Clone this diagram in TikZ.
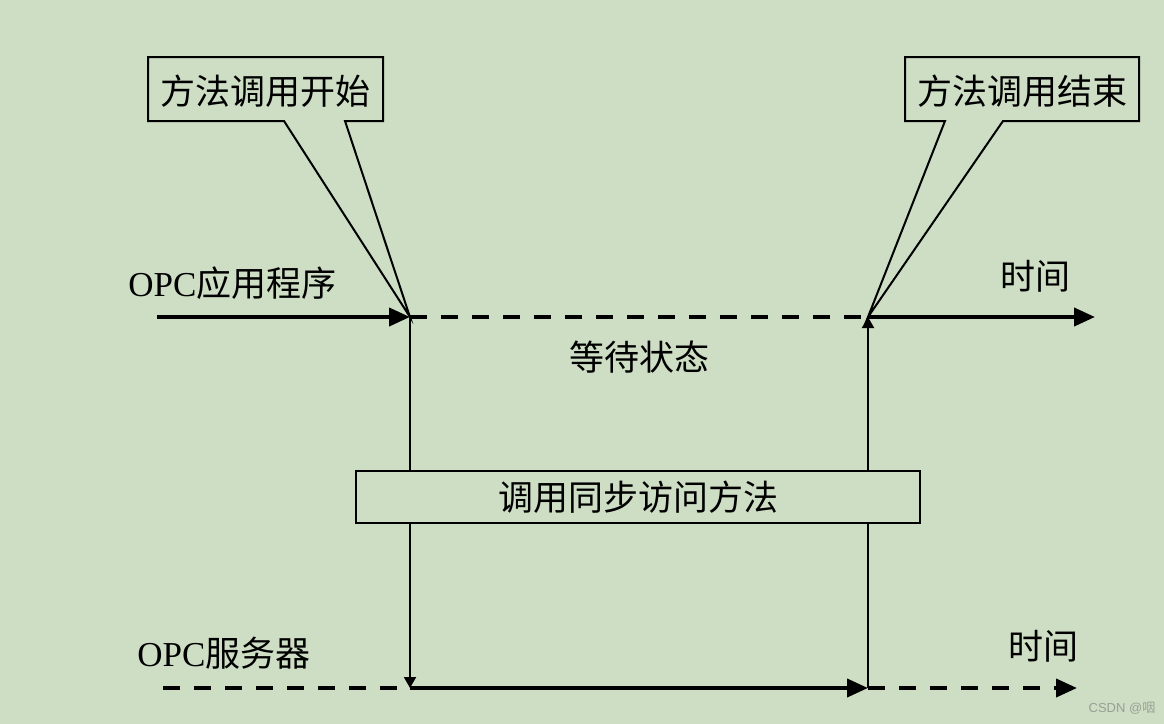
\documentclass[tikz,border=0pt]{standalone}
\usepackage{fontspec}
\setmainfont{Liberation Serif}
\newfontfamily\cjk{Noto Sans CJK SC}
\newfontfamily\wmfont{Liberation Sans}
\usetikzlibrary{arrows.meta}
\definecolor{bgc}{RGB}{206,222,196}
\definecolor{wmc}{RGB}{150,160,150}
\begin{document}
\begin{tikzpicture}[x=0.5pt,y=-0.5pt,
  font=\fontsize{17.5}{20}\selectfont,
  thickline/.style={line width=2pt},
  thinline/.style={line width=0.95pt},
  dashline/.style={line width=2pt,dash pattern=on 8.5pt off 7pt},
  bigtip/.style={-{Triangle[length=10.5pt,width=9pt]}},
  smalltip/.style={-{Triangle[length=5.5pt,width=6pt]}},
  callout/.style={line width=1pt,line join=miter},
  lbl/.style={inner sep=0pt}]
\fill[bgc] (0,0) rectangle (1164,724);
\useasboundingbox (0,0) rectangle (1164,724);

% key coordinates
\coordinate (tL) at (410,317);
\coordinate (tR) at (868,317);
\coordinate (aStart) at (157,317);
\coordinate (aEnd) at (1095,317);
\coordinate (bL) at (410,688);
\coordinate (bR) at (868,688);
\coordinate (sStart) at (163,688);
\coordinate (sEnd) at (1077,688);

% callouts
\draw[callout] (148,57) -- (383,57) -- (383,121) -- (345,121) -- (tL) -- (284,121) -- (148,121) -- cycle;
\node[lbl] (c1) at (265.5,91) {\cjk 方法调用开始};
\draw[callout] (905,57) -- (1139,57) -- (1139,121) -- (1003,121) -- (tR) -- (945,121) -- (905,121) -- cycle;
\node[lbl] (c2) at (1022,91) {\cjk 方法调用结束};

% sync box
\node[draw,line width=1pt,minimum width=282pt,minimum height=26pt,inner sep=0pt] (sync) at (638,497) {\cjk 调用同步访问方法};

% top timeline
\draw[thickline,bigtip] (aStart) -- (tL);
\draw[dashline] (tL) -- (tR);
\draw[thickline,bigtip] (tR) -- (aEnd);

% bottom timeline
\draw[dashline] (sStart) -- (bL);
\draw[thickline,bigtip] (bL) -- (bR);
\draw[dashline,bigtip] (bR) -- (sEnd);

% verticals
\draw[thinline] (tL) -- (tL |- sync.north);
\draw[thinline,smalltip] (bL |- sync.south) -- (bL);
\draw[thinline] (bR) -- (bR |- sync.south);
\draw[thinline,smalltip] (tR |- sync.north) -- (tR);

% labels
\node[lbl,anchor=west] (app) at (128,283) {OPC{\cjk 应用程序}};
\node[lbl] (t1) at (1035,276) {\cjk 时间};
\node[lbl] (wait) at (639,357) {\cjk 等待状态};
\node[lbl,anchor=west] (srv) at (137,653) {OPC{\cjk 服务器}};
\node[lbl] (t2) at (1043,646) {\cjk 时间};
\node[lbl,text=wmc,font=\wmfont\fontsize{6.5}{8}\selectfont] (wm) at (1122,708) {CSDN @{\cjk 咽}};
\end{tikzpicture}
\end{document}
